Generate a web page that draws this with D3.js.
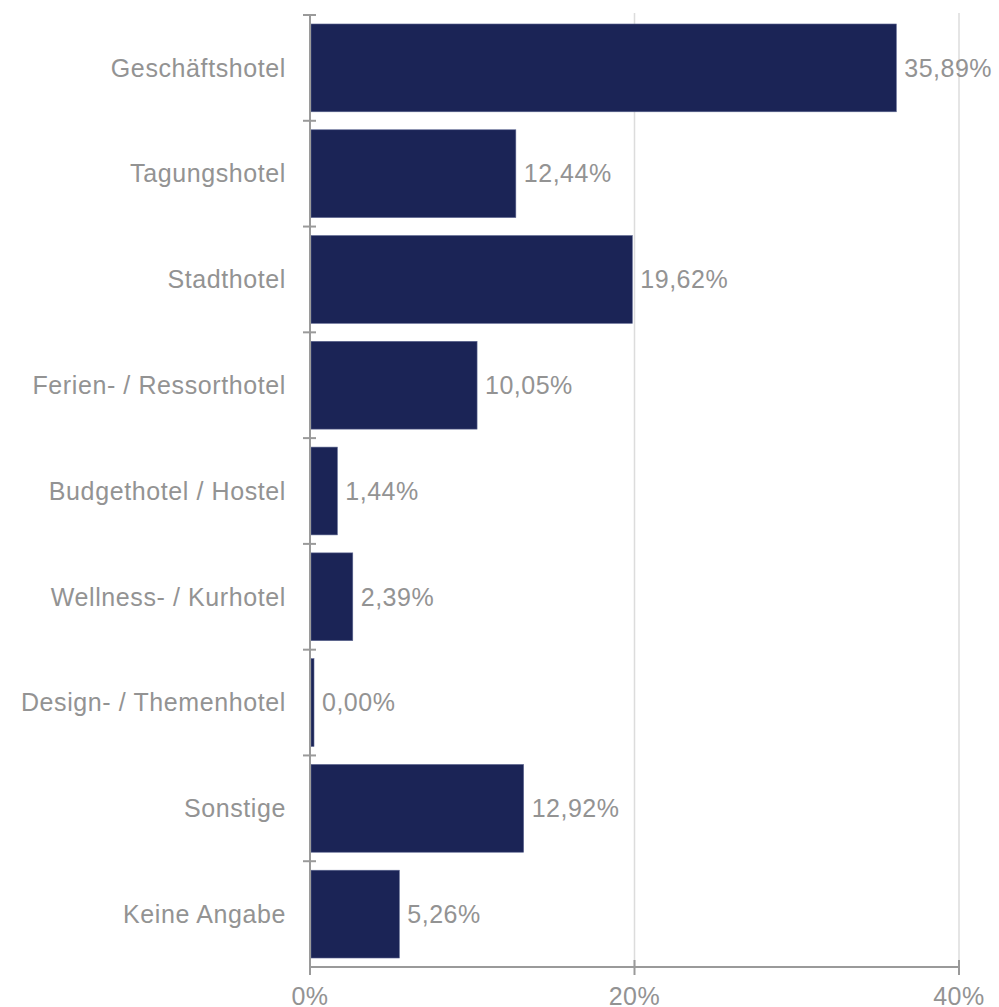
<!DOCTYPE html>
<html>
<head>
<meta charset="utf-8">
<script src="https://cdn.jsdelivr.net/npm/d3@7"></script>
<style>
  html, body { margin: 0; padding: 0; background: #fff; overflow: hidden; }
  svg { display: block; }
  text { font-family: "Liberation Sans", Arial, sans-serif; fill: #939393; }
</style>
</head>
<body>
<svg id="chart"></svg>
<script>
var categories = ["Geschäftshotel", "Tagungshotel", "Stadthotel", "Ferien- / Ressorthotel",
    "Budgethotel / Hostel", "Wellness- / Kurhotel", "Design- / Themenhotel", "Sonstige", "Keine Angabe"];
var values = [35.89, 12.44, 19.62, 10.05, 1.44, 2.39, 0.00, 12.92, 5.26];
var valueLabels = ["35,89%", "12,44%", "19,62%", "10,05%", "1,44%", "2,39%", "0,00%", "12,92%", "5,26%"];
var xTicks = [0, 20, 40];
var xTickLabels = ["0%", "20%", "40%"];

var width = 999, height = 1007;
var svg = d3.select("#chart").attr("width", width).attr("height", height);

var x = d3.scaleLinear().domain([0, 40]).range([310, 959]);
var y = d3.scaleBand().domain(categories).range([15, 967])
    .paddingInner(0.17).paddingOuter(0.085);

// gridlines
svg.selectAll(".grid")
    .data(xTicks.filter(d => d > 0))
    .join("line")
    .attr("class", "grid")
    .attr("x1", d => x(d)).attr("x2", d => x(d))
    .attr("y1", 13).attr("y2", 967)
    .attr("stroke", "#dcdcdc").attr("stroke-width", 1.5);

// bars
svg.selectAll(".bar")
    .data(values)
    .join("rect")
    .attr("class", "bar")
    .attr("x", x(0) + 1)
    .attr("y", (d, i) => y(categories[i]))
    .attr("width", d => x(d) - x(0) + 3)
    .attr("height", y.bandwidth())
    .attr("fill", "#1b2456")
    .attr("stroke", "#5d6690")
    .attr("stroke-width", 0.6);

// value labels
svg.selectAll(".val")
    .data(values)
    .join("text")
    .attr("class", "val")
    .attr("x", d => x(d) + 12)
    .attr("y", (d, i) => y(categories[i]) + y.bandwidth() / 2)
    .attr("dy", "0.35em")
    .style("font-size", "25px")
    .style("letter-spacing", "0.5px")
    .text((d, i) => valueLabels[i]);

// y axis line and boundary ticks
var boundaries = d3.range(categories.length).map(i => 15 + i * (967 - 15) / categories.length);
svg.append("line")
    .attr("x1", x(0)).attr("x2", x(0))
    .attr("y1", 15).attr("y2", 975)
    .attr("stroke", "#9a9a9a").attr("stroke-width", 2);
svg.selectAll(".ytick")
    .data(boundaries)
    .join("line")
    .attr("class", "ytick")
    .attr("x1", x(0) - 7).attr("x2", x(0) + 6)
    .attr("y1", d => d).attr("y2", d => d)
    .attr("stroke", "#9a9a9a").attr("stroke-width", 2);

// category labels
svg.selectAll(".cat")
    .data(categories)
    .join("text")
    .attr("class", "cat")
    .attr("x", 286)
    .attr("y", d => y(d) + y.bandwidth() / 2)
    .attr("dy", "0.35em")
    .attr("text-anchor", "end")
    .style("font-size", "25px")
    .style("letter-spacing", "0.6px")
    .text(d => d);

// x axis
svg.append("line")
    .attr("x1", x(0)).attr("x2", x(40))
    .attr("y1", 967).attr("y2", 967)
    .attr("stroke", "#9a9a9a").attr("stroke-width", 2);
svg.selectAll(".xtick")
    .data(xTicks)
    .join("line")
    .attr("class", "xtick")
    .attr("x1", d => x(d)).attr("x2", d => x(d))
    .attr("y1", 960).attr("y2", 975)
    .attr("stroke", "#9a9a9a").attr("stroke-width", 2);
svg.selectAll(".xlab")
    .data(xTicks)
    .join("text")
    .attr("class", "xlab")
    .attr("x", d => x(d))
    .attr("y", 1005)
    .attr("text-anchor", "middle")
    .style("font-size", "25px")
    .style("letter-spacing", "0.5px")
    .text((d, i) => xTickLabels[i]);
</script>
</body>
</html>
